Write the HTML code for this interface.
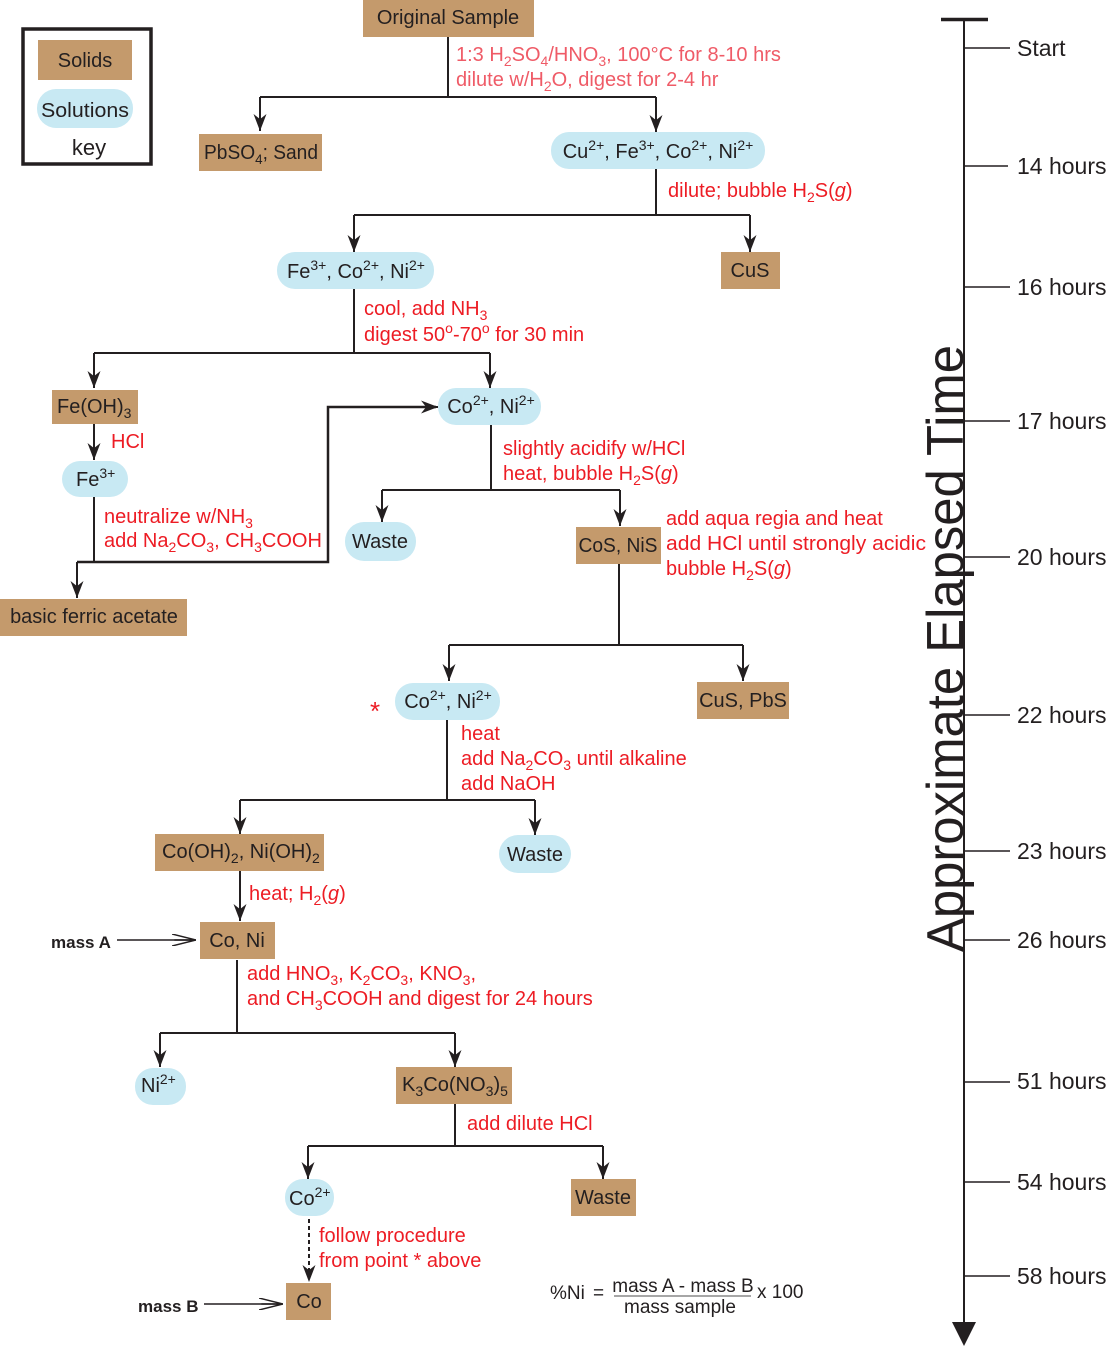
<!DOCTYPE html>
<html><head><meta charset="utf-8"><style>
html,body{margin:0;padding:0;background:#fff}
svg{display:block}
text{font-family:"Liberation Sans",sans-serif;font-size:20px;fill:#231f20}
.r{fill:#ed1c24}
.p{fill:#ef5b67}
.sl{fill:#c49a6c}
.so{fill:#c8e9f3}
.ln{stroke:#231f20;stroke-width:2;fill:none}
.s{font-size:14px}
.b{font-weight:bold;font-size:17px}
.t{font-size:23px}
</style></head><body>
<svg width="1107" height="1347" viewBox="0 0 1107 1347" xmlns="http://www.w3.org/2000/svg">
<defs>
<marker id="a2" viewBox="0 0 10 10" refX="10" refY="5" markerWidth="17" markerHeight="13" markerUnits="userSpaceOnUse" orient="auto" preserveAspectRatio="none">
<path d="M0,0 L10,5 L0,10 L3,5 z" fill="#231f20"/></marker>
<marker id="o" viewBox="0 0 20 10" refX="20" refY="5" markerWidth="24" markerHeight="12" markerUnits="userSpaceOnUse" orient="auto">
<path d="M0,0 L20,5 L0,10 M2,5 L20,5" fill="none" stroke="#231f20" stroke-width="1.2"/></marker>
</defs>

<!-- key -->
<rect x="23" y="29" width="128" height="135" fill="none" stroke="#231f20" stroke-width="3.5"/>
<rect x="38" y="40" width="94" height="40" class="sl"/>
<text x="85" y="67" text-anchor="middle">Solids</text>
<rect x="37" y="89" width="96" height="39" rx="19" class="so"/>
<text x="85" y="117" text-anchor="middle" textLength="88" lengthAdjust="spacingAndGlyphs">Solutions</text>
<text x="89" y="155" text-anchor="middle" style="font-size:22px">key</text>

<!-- Original sample -->
<rect x="363" y="0" width="171" height="37" class="sl"/>
<text x="448" y="24" text-anchor="middle">Original Sample</text>
<path class="ln" d="M448,37 V97 M260,97 H656" />
<path class="ln" d="M260,97 V131" marker-end="url(#a2)"/>
<path class="ln" d="M656,97 V132" marker-end="url(#a2)"/>
<text x="456" y="61" class="p">1:3 H<tspan class="s" dy="5">2</tspan><tspan dy="-5">SO</tspan><tspan class="s" dy="5">4</tspan><tspan dy="-5">/HNO</tspan><tspan class="s" dy="5">3</tspan><tspan dy="-5">, 100°C for 8-10 hrs</tspan></text>
<text x="456" y="86" class="p">dilute w/H<tspan class="s" dy="5">2</tspan><tspan dy="-5">O, digest for 2-4 hr</tspan></text>

<rect x="199" y="134" width="123" height="37" class="sl"/>
<text x="204" y="159" textLength="114" lengthAdjust="spacingAndGlyphs">PbSO<tspan class="s" dy="5">4</tspan><tspan dy="-5">; Sand</tspan></text>
<rect x="551" y="132" width="214" height="37" rx="18" class="so"/>
<text x="658" y="158" text-anchor="middle">Cu<tspan class="s" dy="-8">2+</tspan><tspan dy="8">, Fe</tspan><tspan class="s" dy="-8">3+</tspan><tspan dy="8">, Co</tspan><tspan class="s" dy="-8">2+</tspan><tspan dy="8">, Ni</tspan><tspan class="s" dy="-8">2+</tspan></text>

<path class="ln" d="M656,169 V215 M354,215 H750"/>
<path class="ln" d="M354,215 V252" marker-end="url(#a2)"/>
<path class="ln" d="M750,215 V252" marker-end="url(#a2)"/>
<text x="668" y="197" class="r">dilute; bubble H<tspan class="s" dy="5">2</tspan><tspan dy="-5">S(</tspan><tspan font-style="italic">g</tspan>)</text>

<rect x="277" y="252" width="157" height="37" rx="18" class="so"/>
<text x="356" y="278" text-anchor="middle">Fe<tspan class="s" dy="-8">3+</tspan><tspan dy="8">, Co</tspan><tspan class="s" dy="-8">2+</tspan><tspan dy="8">, Ni</tspan><tspan class="s" dy="-8">2+</tspan></text>
<rect x="721" y="252" width="59" height="37" class="sl"/>
<text x="750" y="277" text-anchor="middle">CuS</text>

<path class="ln" d="M354,289 V353 M94,353 H490"/>
<path class="ln" d="M94,353 V388" marker-end="url(#a2)"/>
<path class="ln" d="M490,353 V388" marker-end="url(#a2)"/>
<text x="364" y="315" class="r">cool, add NH<tspan class="s" dy="5">3</tspan></text>
<text x="364" y="341" class="r">digest 50<tspan class="s" dy="-8">o</tspan><tspan dy="8">-70</tspan><tspan class="s" dy="-8">o</tspan><tspan dy="8"> for 30 min</tspan></text>

<rect x="52" y="390" width="86" height="34" class="sl"/>
<text x="57" y="413">Fe(OH)<tspan class="s" dy="5">3</tspan></text>
<path class="ln" d="M94,424 V460" marker-end="url(#a2)"/>
<text x="111" y="448" class="r">HCl</text>
<rect x="62" y="461" width="66" height="36" rx="18" class="so"/>
<text x="76" y="486">Fe<tspan class="s" dy="-8">3+</tspan></text>
<path class="ln" d="M94,497 V562"/>
<path class="ln" d="M77,562 H328 V407 H436" style="stroke-width:2.5"/>
<path class="ln" d="M420,407 H438" marker-end="url(#a2)"/>
<path class="ln" d="M77,562 V598" marker-end="url(#a2)"/>
<text x="104" y="523" class="r">neutralize w/NH<tspan class="s" dy="5">3</tspan></text>
<text x="104" y="547" class="r">add Na<tspan class="s" dy="5">2</tspan><tspan dy="-5">CO</tspan><tspan class="s" dy="5">3</tspan><tspan dy="-5">, CH</tspan><tspan class="s" dy="5">3</tspan><tspan dy="-5">COOH</tspan></text>
<rect x="0" y="599" width="187" height="37" class="sl"/>
<text x="94" y="623" text-anchor="middle">basic ferric acetate</text>

<rect x="438" y="388" width="103" height="37" rx="18" class="so"/>
<text x="491" y="413" text-anchor="middle">Co<tspan class="s" dy="-8">2+</tspan><tspan dy="8">, Ni</tspan><tspan class="s" dy="-8">2+</tspan></text>
<path class="ln" d="M491,425 V490 M382,490 H620"/>
<path class="ln" d="M382,490 V522" marker-end="url(#a2)"/>
<path class="ln" d="M620,490 V526" marker-end="url(#a2)"/>
<text x="503" y="455" class="r">slightly acidify w/HCl</text>
<text x="503" y="480" class="r">heat, bubble H<tspan class="s" dy="5">2</tspan><tspan dy="-5">S(</tspan><tspan font-style="italic">g</tspan>)</text>
<rect x="345" y="522" width="71" height="39" rx="19" class="so"/>
<text x="380" y="548" text-anchor="middle">Waste</text>
<rect x="576" y="527" width="85" height="37" class="sl"/>
<text x="618" y="552" text-anchor="middle" textLength="79" lengthAdjust="spacingAndGlyphs">CoS, NiS</text>
<text x="666" y="525" class="r">add aqua regia and heat</text>
<text x="666" y="550" class="r" textLength="260" lengthAdjust="spacingAndGlyphs">add HCl until strongly acidic</text>
<text x="666" y="575" class="r">bubble H<tspan class="s" dy="5">2</tspan><tspan dy="-5">S(</tspan><tspan font-style="italic">g</tspan>)</text>

<path class="ln" d="M619,564 V645 M449,645 H743"/>
<path class="ln" d="M449,645 V681" marker-end="url(#a2)"/>
<path class="ln" d="M743,645 V681" marker-end="url(#a2)"/>
<text x="370" y="720" class="r" style="font-size:26px">*</text>
<rect x="395" y="683" width="105" height="37" rx="18" class="so"/>
<text x="448" y="708" text-anchor="middle">Co<tspan class="s" dy="-8">2+</tspan><tspan dy="8">, Ni</tspan><tspan class="s" dy="-8">2+</tspan></text>
<rect x="697" y="682" width="92" height="37" class="sl"/>
<text x="743" y="707" text-anchor="middle">CuS, PbS</text>

<path class="ln" d="M447,720 V800 M240,800 H535"/>
<path class="ln" d="M240,800 V834" marker-end="url(#a2)"/>
<path class="ln" d="M535,800 V835" marker-end="url(#a2)"/>
<text x="461" y="740" class="r">heat</text>
<text x="461" y="765" class="r">add Na<tspan class="s" dy="5">2</tspan><tspan dy="-5">CO</tspan><tspan class="s" dy="5">3</tspan><tspan dy="-5"> until alkaline</tspan></text>
<text x="461" y="790" class="r">add NaOH</text>

<rect x="155" y="834" width="169" height="37" class="sl"/>
<text x="162" y="858">Co(OH)<tspan class="s" dy="5">2</tspan><tspan dy="-5">, Ni(OH)</tspan><tspan class="s" dy="5">2</tspan></text>
<rect x="499" y="835" width="72" height="38" rx="19" class="so"/>
<text x="535" y="861" text-anchor="middle">Waste</text>
<path class="ln" d="M240,871 V921" marker-end="url(#a2)"/>
<text x="249" y="900" class="r">heat; H<tspan class="s" dy="5">2</tspan><tspan dy="-5">(</tspan><tspan font-style="italic">g</tspan>)</text>

<rect x="200" y="922" width="75" height="37" class="sl"/>
<text x="237" y="947" text-anchor="middle">Co, Ni</text>
<text x="51" y="948" class="b">mass A</text>
<path d="M117,940 H196" stroke="#231f20" stroke-width="1.5" fill="none" marker-end="url(#o)"/>

<path class="ln" d="M237,960 V1033 M160,1033 H455"/>
<path class="ln" d="M160,1033 V1067" marker-end="url(#a2)"/>
<path class="ln" d="M455,1033 V1067" marker-end="url(#a2)"/>
<text x="247" y="980" class="r">add HNO<tspan class="s" dy="5">3</tspan><tspan dy="-5">, K</tspan><tspan class="s" dy="5">2</tspan><tspan dy="-5">CO</tspan><tspan class="s" dy="5">3</tspan><tspan dy="-5">, KNO</tspan><tspan class="s" dy="5">3</tspan><tspan dy="-5">,</tspan></text>
<text x="247" y="1005" class="r">and CH<tspan class="s" dy="5">3</tspan><tspan dy="-5">COOH and digest for 24 hours</tspan></text>

<rect x="135" y="1068" width="51" height="37" rx="18" class="so"/>
<text x="141" y="1092">Ni<tspan class="s" dy="-8">2+</tspan></text>
<rect x="396" y="1067" width="116" height="37" class="sl"/>
<text x="402" y="1091" textLength="106" lengthAdjust="spacingAndGlyphs">K<tspan class="s" dy="5">3</tspan><tspan dy="-5">Co(NO</tspan><tspan class="s" dy="5">3</tspan><tspan dy="-5">)</tspan><tspan class="s" dy="5">5</tspan></text>

<path class="ln" d="M455,1104 V1146 M308,1146 H603"/>
<path class="ln" d="M308,1146 V1179" marker-end="url(#a2)"/>
<path class="ln" d="M603,1146 V1179" marker-end="url(#a2)"/>
<text x="467" y="1130" class="r">add dilute HCl</text>
<rect x="285" y="1179" width="49" height="37" rx="18" class="so"/>
<text x="289" y="1205">Co<tspan class="s" dy="-8">2+</tspan></text>
<rect x="571" y="1179" width="65" height="37" class="sl"/>
<text x="603" y="1204" text-anchor="middle">Waste</text>

<path class="ln" d="M309,1219 V1282" stroke-dasharray="4,3" marker-end="url(#a2)"/>
<text x="319" y="1242" class="r">follow procedure</text>
<text x="319" y="1267" class="r">from point * above</text>
<rect x="286" y="1283" width="45" height="37" class="sl"/>
<text x="309" y="1308" text-anchor="middle">Co</text>
<text x="138" y="1312" class="b">mass B</text>
<path d="M204,1304 H283" stroke="#231f20" stroke-width="1.5" fill="none" marker-end="url(#o)"/>

<text x="550" y="1299" style="font-size:19px">%Ni</text>
<text x="593" y="1299" style="font-size:19px">=</text>
<text x="683" y="1292" text-anchor="middle" style="font-size:19px">mass A - mass B</text>
<line x1="614" y1="1296" x2="751" y2="1296" stroke="#888" stroke-width="1.5"/>
<text x="680" y="1313" text-anchor="middle" style="font-size:19px">mass sample</text>
<text x="757" y="1298" style="font-size:19px">x 100</text>

<!-- timeline -->
<line x1="941" y1="19.5" x2="988" y2="19.5" stroke="#231f20" stroke-width="3.5"/>
<line x1="964" y1="19" x2="964" y2="1325" stroke="#231f20" stroke-width="2"/>
<path d="M952,1322 L976,1322 L964,1346 z" fill="#231f20"/>
<g stroke="#231f20" stroke-width="1.5">
<line x1="964" y1="48" x2="1010" y2="48"/>
<line x1="964" y1="166" x2="1008" y2="166"/>
<line x1="964" y1="287" x2="1010" y2="287"/>
<line x1="964" y1="421" x2="1010" y2="421"/>
<line x1="964" y1="557" x2="1010" y2="557"/>
<line x1="964" y1="715" x2="1010" y2="715"/>
<line x1="964" y1="851" x2="1010" y2="851"/>
<line x1="964" y1="940" x2="1010" y2="940"/>
<line x1="964" y1="1082" x2="1010" y2="1082"/>
<line x1="964" y1="1182" x2="1010" y2="1182"/>
<line x1="964" y1="1276" x2="1010" y2="1276"/>
</g>
<g>
<text x="1017" y="56" class="t">Start</text>
<text x="1017" y="174" class="t">14 hours</text>
<text x="1017" y="295" class="t">16 hours</text>
<text x="1017" y="429" class="t">17 hours</text>
<text x="1017" y="565" class="t">20 hours</text>
<text x="1017" y="723" class="t">22 hours</text>
<text x="1017" y="859" class="t">23 hours</text>
<text x="1017" y="948" class="t">26 hours</text>
<text x="1017" y="1089" class="t">51 hours</text>
<text x="1017" y="1190" class="t">54 hours</text>
<text x="1017" y="1284" class="t">58 hours</text>
</g>
<text transform="translate(963,952) rotate(-90)" style="font-size:52px" textLength="607" lengthAdjust="spacingAndGlyphs">Approximate Elapsed Time</text>
</svg>
</body></html>
